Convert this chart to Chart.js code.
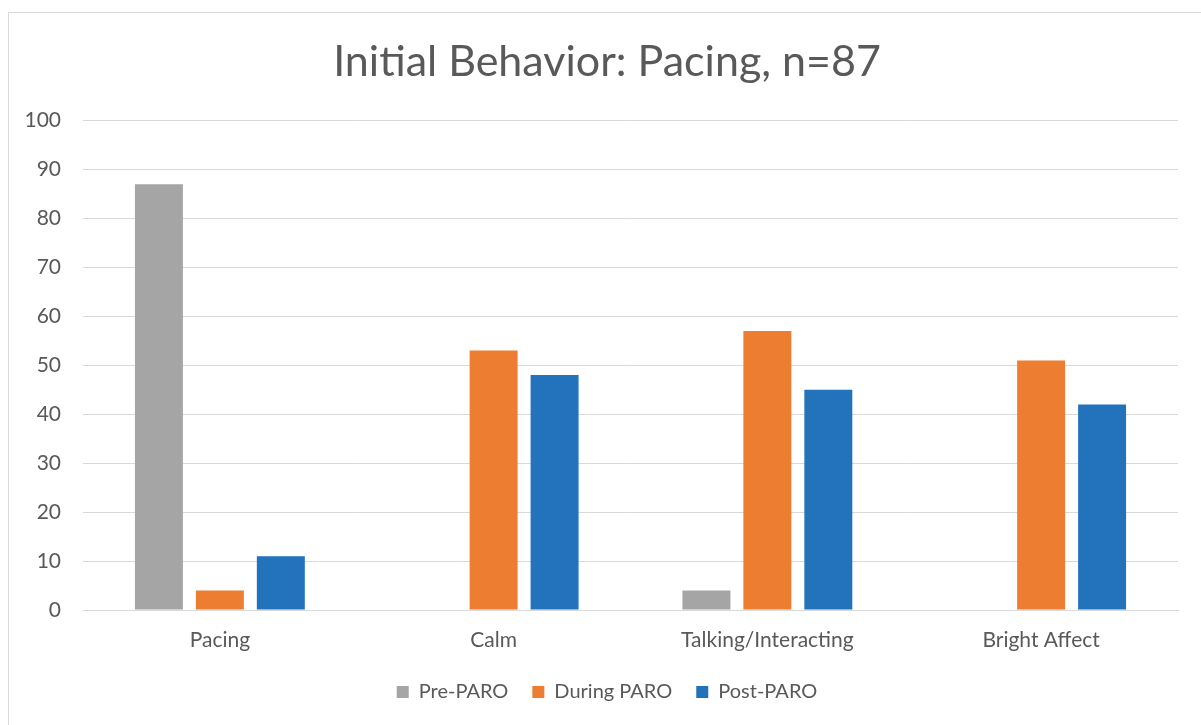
<!DOCTYPE html>
<html>
<head>
<meta charset="utf-8">
<title>Initial Behavior: Pacing</title>
<script src="https://cdn.jsdelivr.net/npm/chart.js@4/dist/chart.umd.min.js"></script>
<style>
  html, body { margin: 0; padding: 0; background: #ffffff; overflow: hidden; width: 1201px; height: 725px; }
  #frame {
    position: absolute; left: 8px; top: 12px;
    width: 1196px; height: 730px;
    border: 1px solid #d9d9d9;
    background: #ffffff;
  }
  #chart { display: block; }
</style>
</head>
<body>
<div id="frame"><canvas id="chart" width="1196" height="720"></canvas></div>
<script>
const categories = ['Pacing', 'Calm', 'Talking/Interacting', 'Bright Affect'];
const preParo = [87, 0, 4, 0];
const duringParo = [4, 53, 57, 51];
const postParo = [11, 48, 45, 42];
const yTicks = [0, 10, 20, 30, 40, 50, 60, 70, 80, 90, 100];

const FONT = 'Lato, "Open Sans", "Noto Sans", sans-serif';
const TEXT = '#595959';
const GRID = '#d9d9d9';

function series(label, data, color) {
  return {
    label,
    data,
    backgroundColor: color,
    borderWidth: 0,
    categoryPercentage: 0.668,
    barPercentage: 0.787
  };
}

new Chart(document.getElementById('chart'), {
  type: 'bar',
  data: {
    labels: categories,
    datasets: [
      series('Pre-PARO', preParo, '#a5a5a5'),
      series('During PARO', duringParo, '#ed7d31'),
      series('Post-PARO', postParo, '#2272bc')
    ]
  },
  options: {
    responsive: false,
    animation: false,
    devicePixelRatio: 1,
    layout: { padding: { left: 0, right: 0, top: 0, bottom: 21 } },
    plugins: {
      title: {
        display: true,
        text: 'Initial Behavior: Pacing, n=87',
        color: TEXT,
        font: { family: FONT, size: 43, weight: 'normal' },
        padding: { top: 23, bottom: 33 }
      },
      legend: {
        position: 'bottom',
        labels: {
          color: TEXT,
          font: { family: FONT, size: 20 },
          boxWidth: 12,
          boxHeight: 12,
          padding: 24
        }
      },
      tooltip: { enabled: false }
    },
    scales: {
      x: {
        grid: { display: false },
        border: { display: true, color: GRID, width: 1 },
        ticks: { color: TEXT, font: { family: FONT, size: 21 }, padding: 10 },
        afterFit(scale) { scale.height = 48; }
      },
      y: {
        min: 0,
        max: 100,
        afterBuildTicks(scale) { scale.ticks = yTicks.map(value => ({ value })); },
        grid: { color: GRID, lineWidth: 1, drawTicks: false },
        border: { display: false },
        ticks: { color: TEXT, font: { family: FONT, size: 21 }, padding: 22 },
        afterFit(scale) { scale.width = 74; }
      },
      // blank right-hand gutter so the title stays centred on the full frame
      gutter: {
        type: 'linear',
        position: 'right',
        grid: { display: false },
        border: { display: false },
        ticks: { display: false },
        afterFit(scale) { scale.width = 27; }
      }
    }
  }
});
</script>
</body>
</html>
